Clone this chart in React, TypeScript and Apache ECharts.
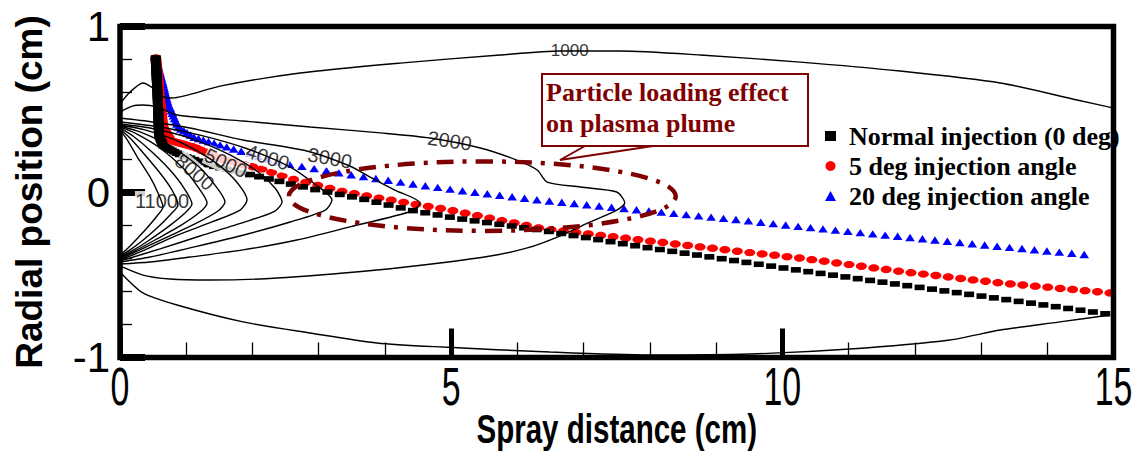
import React, { useEffect, useRef } from 'react';
import * as echarts from 'echarts';

// ---------- data ----------
const seriesNames = ['Normal injection (0 deg)', '5 deg injection angle', '20 deg injection angle'];

const normalInjection: number[][] = [
  [0.54, 0.81], [0.57, 0.56], [0.59, 0.34], [0.65, 0.28], [0.88, 0.23], [1.37, 0.16],
  [2.13, 0.09], [2.88, 0.02], [3.64, -0.04], [4.39, -0.11], [5.10, -0.16], [6.35, -0.23],
  [7.86, -0.33], [9.37, -0.42], [10.28, -0.475], [11.78, -0.56], [13.29, -0.645], [14.95, -0.74],
];
const angle5: number[][] = [
  [0.54, 0.81], [0.60, 0.56], [0.65, 0.39], [0.77, 0.31], [1.12, 0.27], [1.52, 0.20],
  [2.13, 0.14], [2.58, 0.08], [3.38, 0.0], [4.39, -0.07], [4.99, -0.11], [6.35, -0.22],
  [7.86, -0.29], [9.37, -0.36], [10.28, -0.40], [11.78, -0.48], [13.29, -0.55], [14.95, -0.61],
];
const angle20: number[][] = [
  [0.54, 0.81], [0.65, 0.65], [0.72, 0.54], [0.88, 0.39], [1.12, 0.33], [1.63, 0.27],
  [2.38, 0.18], [3.38, 0.11], [4.39, 0.05], [5.10, 0.01], [6.35, -0.05], [7.86, -0.11],
  [9.37, -0.17], [10.28, -0.21], [11.78, -0.27], [13.29, -0.33], [14.61, -0.38],
];

// temperature contours (K)
const c1000Top: number[][] = [
  [0, 0.532], [0.151, 0.604], [0.347, 0.659], [0.498, 0.628], [0.634, 0.58], [0.785, 0.568],
  [1.51, 0.64], [2.72, 0.719], [4.23, 0.779], [5.74, 0.828], [6.64, 0.852], [7.55, 0.852],
  [8.76, 0.828], [10.27, 0.785], [11.78, 0.731], [13.29, 0.659], [14.45, 0.556], [14.99, 0.508],
];
const c1000Bottom: number[][] = [
  [0, -0.483], [0.347, -0.61], [0.861, -0.683], [1.857, -0.785], [2.87, -0.852], [3.88, -0.912],
  [4.88, -0.937], [6.49, -0.967], [8.0, -0.985], [9.51, -0.979], [11.02, -0.949], [12.53, -0.894],
  [13.29, -0.834], [14.19, -0.785], [14.95, -0.743],
];
const c2000: number[][] = [
  [0, 0.483], [0.196, 0.52], [0.347, 0.526], [0.559, 0.514], [0.861, 0.465], [1.857, 0.429],
  [2.87, 0.393], [3.93, 0.357], [4.68, 0.326], [5.44, 0.266], [5.99, 0.193], [6.3, 0.133],
  [6.45, 0.06], [6.95, 0.03], [7.5, 0.0], [7.62, -0.066], [7.5, -0.109], [7.1, -0.181],
  [6.64, -0.266], [6.15, -0.338], [5.59, -0.387], [4.83, -0.429], [3.88, -0.471], [2.37, -0.52],
  [1.36, -0.532], [0.755, -0.526], [0.347, -0.502], [0, -0.447],
];
const c3000: number[][] = [
  [0, 0.447], [0.498, 0.423], [1.057, 0.387], [1.857, 0.314], [2.82, 0.248], [3.47, 0.157],
  [3.77, 0.091], [4.15, 0.012], [4.53, -0.066], [4.41, -0.115], [3.47, -0.211], [2.67, -0.29],
  [1.857, -0.35], [1.057, -0.393], [0.453, -0.423], [0, -0.435],
];
const c4000: number[][] = [
  [0, 0.423], [0.604, 0.393], [1.208, 0.344], [1.887, 0.266], [2.57, 0.151], [2.9, 0.06],
  [3.2, -0.048], [3.1, -0.109], [2.57, -0.181], [1.81, -0.266], [1.057, -0.338], [0.453, -0.393], [0, -0.423],
];
const c5000: number[][] = [
  [0, 0.411], [0.453, 0.387], [1.057, 0.326], [1.661, 0.224], [2.084, 0.121], [2.34, 0.024],
  [2.446, -0.06], [2.34, -0.115], [1.887, -0.181], [1.208, -0.266], [0.604, -0.344], [0, -0.417],
];
const c6000: number[][] = [
  [0, 0.405], [0.377, 0.375], [0.906, 0.302], [1.389, 0.193], [1.736, 0.073], [1.918, -0.048],
  [1.812, -0.109], [1.389, -0.181], [0.83, -0.266], [0.377, -0.35], [0, -0.411],
];
const c7000: number[][] = [
  [0, 0.399], [0.302, 0.363], [0.755, 0.278], [1.163, 0.163], [1.434, 0.042], [1.585, -0.06],
  [1.48, -0.115], [1.132, -0.193], [0.679, -0.278], [0.302, -0.35], [0, -0.405],
];
const c8000: number[][] = [
  [0, 0.393], [0.257, 0.35], [0.604, 0.266], [0.951, 0.145], [1.178, 0.03], [1.314, -0.066],
  [1.208, -0.121], [0.906, -0.205], [0.528, -0.29], [0.226, -0.356], [0, -0.399],
];
const c9000: number[][] = [
  [0, 0.387], [0.196, 0.338], [0.483, 0.242], [0.755, 0.133], [0.966, 0.024], [1.087, -0.073],
  [0.981, -0.127], [0.725, -0.211], [0.423, -0.296], [0.181, -0.356], [0, -0.393],
];
const c10000: number[][] = [
  [0, 0.381], [0.151, 0.326], [0.377, 0.224], [0.604, 0.115], [0.785, 0.012], [0.876, -0.079],
  [0.77, -0.133], [0.559, -0.218], [0.332, -0.296], [0.151, -0.35], [0, -0.387],
];
const c11000: number[][] = [
  [0, 0.375], [0.121, 0.308], [0.272, 0.205], [0.453, 0.091], [0.574, -0.006], [0.649, -0.091],
  [0.559, -0.145], [0.393, -0.224], [0.226, -0.296], [0.106, -0.344], [0, -0.381],
];
const contours = [c1000Top, c1000Bottom, c2000, c3000, c4000, c5000, c6000, c7000, c8000, c9000, c10000, c11000];

const contourLabelText = ['1000', '2000', '3000', '4000', '5000', '8000', '11000'];
const contourLabelPos: number[][] = [
  [6.79, 0.858], [4.98, 0.31], [3.17, 0.205], [2.23, 0.21], [1.6, 0.175], [1.13, 0.12], [0.634, -0.054],
];
const contourLabelRot = [0, -8, -10, -18, -25, -40, 0];

const xTickValues = [0, 5, 10, 15];
const xAxisTitle = 'Spray distance (cm)';
const yAxisTitle = 'Radial position (cm)';

const plumeCenter = [5.47, -0.025];
const plumeRadii = [2.92, 0.21];
const calloutLines = ['Particle loading effect', 'on plasma plume'];

// ---------- styling ----------
const SANS = '"Liberation Sans", Arial, Helvetica, sans-serif';
const SERIF = '"Liberation Serif", "Times New Roman", serif';
const MAROON = '#7f0000';

const spacingAt = (x: number) => Math.min(12.5, Math.max(1.5, 1.5 + (x - 0.55) * 5.5));

function markerSeries(name: string, pts: number[][], color: string, kind: 'rect' | 'dot' | 'tri') {
  return {
    type: 'custom',
    name,
    coordinateSystem: 'cartesian2d',
    data: pts,
    itemStyle: { color },
    silent: true,
    renderItem: (params: any, api: any) => {
      if (params.dataIndex !== 0) return null;
      const px = pts.map((p) => api.coord(p));
      const centers: number[][] = [];
      centers.push(px[0]);
      let carried = 0;
      let need = spacingAt(pts[0][0]);
      for (let i = 0; i < px.length - 1; i++) {
        const [ax, ay] = px[i];
        const [bx, by] = px[i + 1];
        const L = Math.hypot(bx - ax, by - ay);
        let d = 0;
        while (carried + (L - d) >= need) {
          d += need - carried;
          const t = d / L;
          centers.push([ax + (bx - ax) * t, ay + (by - ay) * t]);
          carried = 0;
          need = spacingAt(pts[i][0] + (pts[i + 1][0] - pts[i][0]) * t);
        }
        carried += L - d;
      }
      const children = centers.map(([cx, cy]) => {
        if (kind === 'rect') {
          return { type: 'rect', shape: { x: cx - 5, y: cy - 2.8, width: 10, height: 5.6 }, style: { fill: color } };
        }
        if (kind === 'dot') {
          return { type: 'ellipse', shape: { cx, cy, rx: 5.5, ry: 3.7 }, style: { fill: color } };
        }
        return {
          type: 'polygon',
          shape: { points: [[cx - 4.8, cy + 3.6], [cx + 4.8, cy + 3.6], [cx, cy - 3.8]] },
          style: { fill: color },
        };
      });
      return { type: 'group', children };
    },
  };
}

export default function App() {
  const ref = useRef<HTMLDivElement>(null);
  useEffect(() => {
    const chart = echarts.init(ref.current!, null, { renderer: 'svg' });
    const grid = { left: 120, top: 26.5, width: 993.5, height: 331 };
    const option: any = {
      animation: false,
      backgroundColor: '#fff',
      grid,
      xAxis: {
        type: 'value', min: 0, max: 15, interval: 5,
        axisLine: { show: false, onZero: false }, splitLine: { show: false },
        axisTick: { inside: true, length: 29, lineStyle: { color: '#000', width: 5 } },
        minorTick: { show: true, splitNumber: 5, length: 15, lineStyle: { color: '#000', width: 1.3 } },
        axisLabel: { show: false },
      },
      yAxis: {
        type: 'value', min: -1, max: 1, interval: 1,
        axisLine: { show: false, onZero: false }, splitLine: { show: false },
        axisTick: { inside: true, length: 25, lineStyle: { color: '#000', width: 7 } },
        minorTick: { show: true, splitNumber: 5, length: 12, lineStyle: { color: '#000', width: 1.3 } },
        axisLabel: { color: '#000', fontSize: 42, fontFamily: SANS, margin: 10 },
        name: yAxisTitle, nameLocation: 'middle', nameGap: 72, nameRotate: 90,
        nameTextStyle: { color: '#000', fontSize: 37, fontWeight: 'bold', fontFamily: SANS },
      },
      legend: {
        orient: 'vertical', left: 820, top: 118, itemWidth: 11, itemHeight: 10, itemGap: 4,
        selectedMode: false,
        data: [
          { name: seriesNames[0], icon: 'rect' },
          { name: seriesNames[1], icon: 'circle' },
          { name: seriesNames[2], icon: 'triangle' },
        ],
        textStyle: { color: '#000', fontSize: 26, fontWeight: 'bold', fontFamily: SERIF, lineHeight: 26, padding: [0, 0, 0, 8] },
      },
      series: [
        ...contours.map((c) => ({
          type: 'line', data: c, symbol: 'none', smooth: 0.25, silent: true,
          lineStyle: { color: '#000', width: 1.4 },
        })),
        {
          type: 'scatter', silent: true, symbolSize: 0,
          data: contourLabelText.map((t, i) => ({
            name: t, value: contourLabelPos[i],
            label: { rotate: contourLabelRot[i], fontSize: i === 0 ? 17 : 20 },
          })),
          label: {
            show: true, position: 'inside', formatter: '{b}', color: '#000',
            fontFamily: SANS, fontSize: 20, backgroundColor: '#fff', padding: [0, 0],
          },
        },
        markerSeries(seriesNames[2], angle20, '#0000ff', 'tri'),
        markerSeries(seriesNames[1], angle5, '#ff0000', 'dot'),
        markerSeries(seriesNames[0], normalInjection, '#000000', 'rect'),
      ],
    };
    chart.setOption(option);

    const toPx = (p: number[]) => chart.convertToPixel({ gridIndex: 0 }, p) as number[];
    const c = toPx(plumeCenter);
    const e = toPx([plumeCenter[0] + plumeRadii[0], plumeCenter[1] + plumeRadii[1]]);
    const bottom = grid.top + grid.height;
    const xLabels = xTickValues.map((v) => ({
      type: 'text', z: 20, silent: true,
      x: toPx([v, -1])[0], y: bottom + 3, scaleX: 0.64,
      style: { text: String(v), font: `53px ${SANS}`, fill: '#000', align: 'center', verticalAlign: 'top' },
    }));
    chart.setOption({
      graphic: [
        ...xLabels,
        {
          type: 'text', z: 20, silent: true,
          x: grid.left + grid.width / 2, y: 429, scaleX: 0.72,
          style: { text: xAxisTitle, font: `bold 41px ${SANS}`, fill: '#000', align: 'center', verticalAlign: 'middle' },
        },
        {
          type: 'ellipse', z: 50, silent: true,
          shape: { cx: c[0], cy: c[1], rx: Math.abs(e[0] - c[0]), ry: Math.abs(c[1] - e[1]) },
          style: { fill: 'none', stroke: MAROON, lineWidth: 4.5, lineDash: [17, 9, 4, 9] },
        },
        {
          type: 'rect', z: 60, silent: true,
          shape: { x: 542, y: 74, width: 266, height: 72 },
          style: { fill: '#fff', stroke: MAROON, lineWidth: 2 },
        },
        {
          type: 'polyline', z: 60, silent: true,
          shape: { points: [[585, 146], [560, 160], [653, 146]] },
          style: { stroke: MAROON, lineWidth: 2, fill: 'none' },
        },
        {
          type: 'text', z: 61, silent: true, x: 546, y: 77,
          style: { text: calloutLines.join('\n'), font: `bold 26px ${SERIF}`, fill: MAROON, lineHeight: 31 },
        },
        {
          type: 'rect', z: 100, silent: true,
          shape: { x: grid.left, y: grid.top, width: grid.width, height: grid.height },
          style: { fill: 'none', stroke: '#000', lineWidth: 5.5 },
        },
      ],
    });
    return () => chart.dispose();
  }, []);
  return <div ref={ref} style={{ position: 'fixed', left: 0, top: 0, width: 1142, height: 453, background: '#fff' }} />;
}
